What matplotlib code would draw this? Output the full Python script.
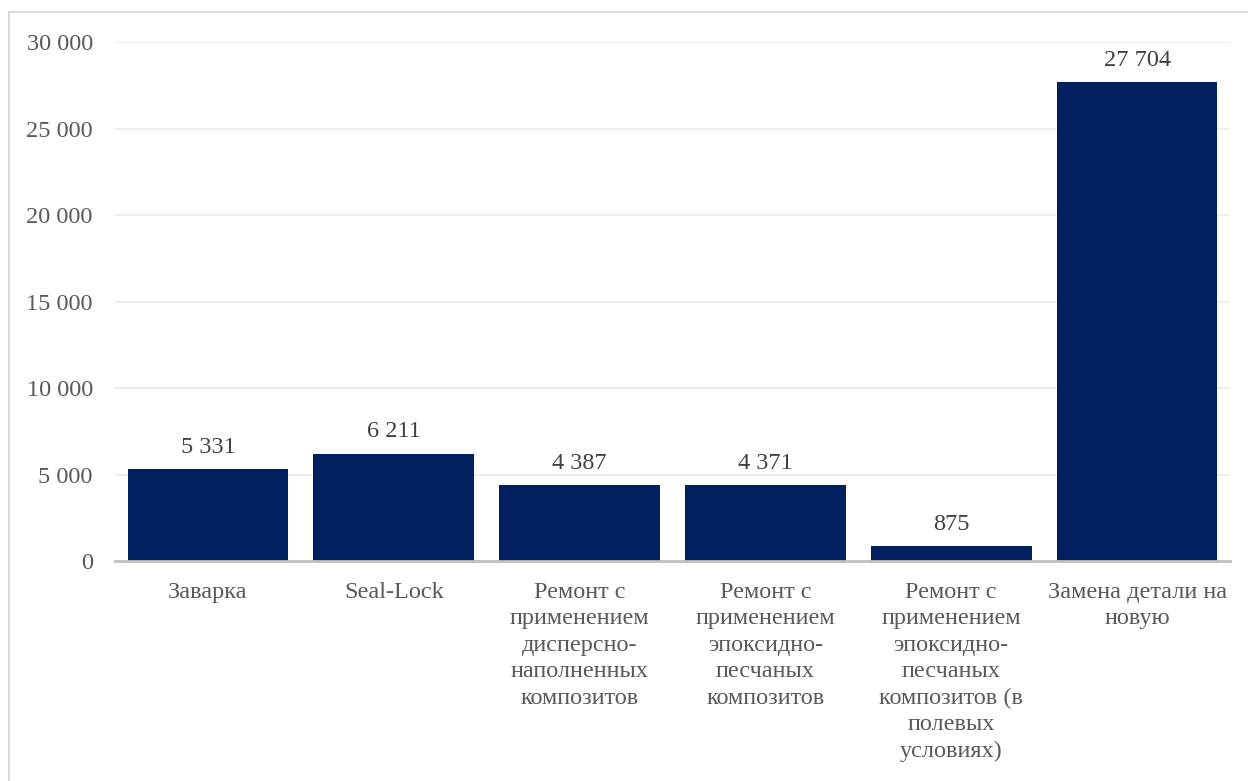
import matplotlib
matplotlib.use("Agg")
import matplotlib.pyplot as plt
from matplotlib.lines import Line2D
from matplotlib.ticker import FuncFormatter

categories = [
    "Заварка",
    "Seal-Lock",
    "Ремонт с\nприменением\nдисперсно-\nнаполненных\nкомпозитов",
    "Ремонт с\nприменением\nэпоксидно-\nпесчаных\nкомпозитов",
    "Ремонт с\nприменением\nэпоксидно-\nпесчаных\nкомпозитов (в\nполевых\nусловиях)",
    "Замена детали на\nновую",
]
values = [5331, 6211, 4387, 4371, 875, 27704]
yticks = [0, 5000, 10000, 15000, 20000, 25000, 30000]

plt.rcParams['font.family'] = ['Liberation Serif', 'DejaVu Serif']
text_color = "#595959"
fs = 17.5

W, H = 1248, 781
fig = plt.figure(figsize=(W / 100, H / 100), dpi=100)
ax = fig.add_axes([115 / W, 1 - 561 / H, (1230 - 115) / W, (561 - 42) / H])

x = list(range(len(values)))
bars = ax.bar(x, values, width=0.865, color="#002060", zorder=3)

def fmt(v):
    return f"{int(round(v)):,}".replace(",", " ")

for xi, v in zip(x, values):
    ax.annotate(fmt(v), (xi, v), xytext=(0, 8), textcoords="offset points",
                ha="center", va="bottom", fontsize=fs, color="#404040")

ax.set_xlim(-0.5, len(values) - 0.5)
ax.set_ylim(0, 30000)
ax.set_yticks(yticks)
ax.yaxis.set_major_formatter(FuncFormatter(lambda v, p: fmt(v)))
ax.set_xticks(x)
ax.set_xticklabels(categories, fontsize=fs, color=text_color, linespacing=1.34, va="top")
ax.tick_params(axis="y", length=0, pad=16, labelsize=fs, labelcolor=text_color)
ax.tick_params(axis="x", length=0, pad=15)
for lbl in ax.get_yticklabels():
    lbl.set_horizontalalignment("right")

ax.grid(axis="y", color="#ebebeb", linewidth=1.2, zorder=0)
for s in ["left", "right", "top"]:
    ax.spines[s].set_visible(False)
ax.spines["bottom"].set_color("#bfbfbf")
ax.spines["bottom"].set_linewidth(2)
ax.spines["bottom"].set_zorder(4)

# outer chart border (left and top)
fig.add_artist(Line2D([8.5 / W, 8.5 / W], [0, 1 - 12 / H], transform=fig.transFigure,
                      color="#d9d9d9", linewidth=1.3))
fig.add_artist(Line2D([8.5 / W, 1], [1 - 12 / H, 1 - 12 / H], transform=fig.transFigure,
                      color="#d9d9d9", linewidth=1.3))

fig.savefig("out.png", dpi=100)
